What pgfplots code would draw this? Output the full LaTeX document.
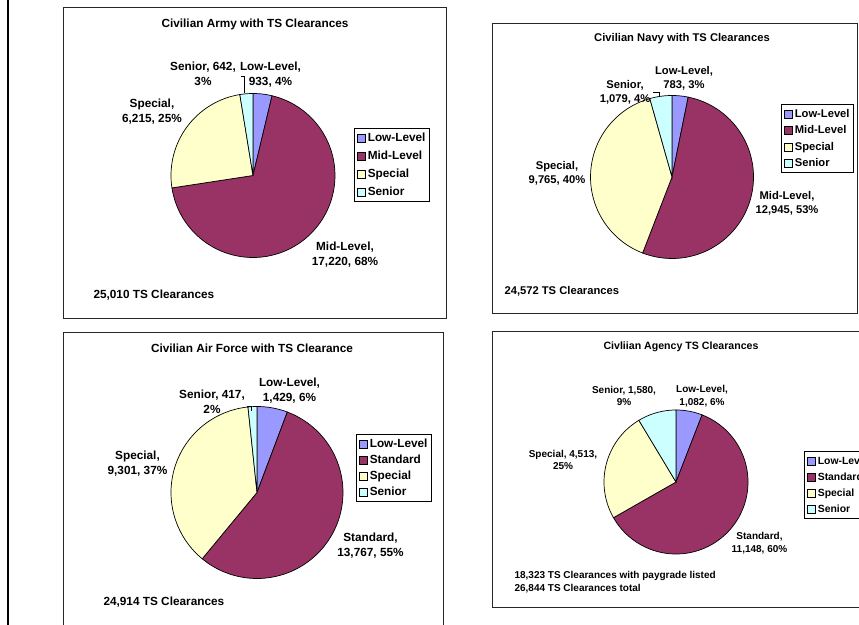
\documentclass[border=0pt]{standalone}
\usepackage{pgfplots}
\pgfplotsset{compat=1.18}
\usepackage{fontspec}
\setmainfont{Liberation Sans}

\definecolor{lowc}{HTML}{9999FF}
\definecolor{midc}{HTML}{993366}
\definecolor{specc}{HTML}{FFFFCC}
\definecolor{senc}{HTML}{CCFFFF}

% One wedge: colour, start angle, end angle, centre x, centre y (radius in \R)
\newcommand\slice[5]{%
  \edef\doslice{\noexpand\addplot[fill=#1, draw=black, line width=0.7pt,
      domain=#3:#2, samples=90]
    ({#4+\R*cos(x)},{#5-\R*sin(x)}) -- (axis cs:#4,#5) -- cycle;}%
  \doslice}

% Pie starting at 12 o'clock, running clockwise:
% centre x, centre y, radius, then the four counts
\newcommand\pie[7]{%
  \edef\R{#3}%
  \edef\tot{\fpeval{#4+#5+#6+#7}}%
  \edef\tA{90}%
  \edef\tB{\fpeval{90-360*#4/\tot}}%
  \edef\tC{\fpeval{\tB-360*#5/\tot}}%
  \edef\tD{\fpeval{\tC-360*#6/\tot}}%
  \slice{lowc}{\tA}{\tB}{#1}{#2}%
  \slice{midc}{\tB}{\tC}{#1}{#2}%
  \slice{specc}{\tC}{\tD}{#1}{#2}%
  \slice{senc}{\tD}{-270}{#1}{#2}%
}

\pgfplotsset{
  panel/.style={
    at={(0,0)}, anchor=south west,
    width=859pt, height=624pt, scale only axis,
    xmin=0, xmax=859, ymin=0, ymax=624, y dir=reverse,
    hide axis, clip=false,
    legend cell align=left,
    legend image code/.code={\draw[##1, line width=0.5pt] (0pt,-4pt) rectangle (8pt,4pt);},
  },
  lg/.style n args={4}{legend style={
      at={(axis cs:#1,#2)}, anchor=north west,
      draw=black, line width=0.6pt, fill=white,
      font=\fontsize{#3}{#3}\selectfont\bfseries,
      inner xsep=2.5pt, inner ysep=4pt, row sep=#4,
      /tikz/every odd column/.append style={column sep=1.5pt},
      nodes={inner xsep=1pt, inner ysep=0pt, text height=9pt, text depth=2pt},
    }},
}

\begin{document}
\begin{tikzpicture}
\useasboundingbox (0,0) rectangle (859pt,624pt);
\clip (0,0) rectangle (859pt,624pt);
\fill[white] (0,0) rectangle (859pt,624pt);

% ---------------- Army ----------------
\begin{axis}[panel, lg={354}{128}{11.8}{7pt}]
  \draw[line width=0.9pt, black!85] (axis cs:63,7) rectangle (axis cs:446,318);
  \draw[black, line width=2pt] (axis cs:7.7,-5) -- (axis cs:7.7,630);
  \pie{253}{175.5}{82}{933}{17220}{6215}{642}
  \legend{Low-Level,Mid-Level,Special,Senior}
  \begin{scope}[every node/.style={font=\fontsize{11.8}{14.8}\selectfont\bfseries, align=center}]
    \node at (axis cs:255,24) {Civilian Army with TS Clearances};
    \node at (axis cs:203,74) {Senior, 642,\\3\%};
    \node at (axis cs:270.5,74.5) {Low-Level,\\933, 4\%};
    \node at (axis cs:152,112) {Special,\\6,215, 25\%};
    \node at (axis cs:345,254.5) {Mid-Level,\\17,220, 68\%};
    \node[anchor=west] at (axis cs:90,295) {25,010 TS Clearances};
  \end{scope}
  \draw[black, line width=0.6pt] (axis cs:241,76) -- (axis cs:244,76) -- (axis cs:244,93);
\end{axis}

% ---------------- Navy ----------------
\begin{axis}[panel, lg={781}{104}{11.2}{5.5pt}]
  \draw[line width=0.9pt, black!85] (axis cs:492,23) rectangle (axis cs:857,313);
  \pie{672}{177}{81.5}{783}{12945}{9765}{1079}
  \legend{Low-Level,Mid-Level,Special,Senior}
  \begin{scope}[every node/.style={font=\fontsize{11.2}{14.2}\selectfont\bfseries, align=center}]
    \node at (axis cs:682,39) {Civilian Navy with TS Clearances};
    \node at (axis cs:684,78) {Low-Level,\\783, 3\%};
    \node at (axis cs:625,92) {Senior,\\1,079, 4\%};
    \node at (axis cs:557,173) {Special,\\9,765, 40\%};
    \node at (axis cs:787,203.5) {Mid-Level,\\12,945, 53\%};
    \node[anchor=west] at (axis cs:501,291) {24,572 TS Clearances};
  \end{scope}
  \draw[black, line width=0.6pt] (axis cs:653,92) -- (axis cs:659,92) -- (axis cs:659,97);
\end{axis}

% ---------------- Air Force ----------------
\begin{axis}[panel, lg={356}{434}{11.8}{5pt}]
  \draw[line width=0.9pt, black!85] (axis cs:63,332) rectangle (axis cs:443,660);
  \pie{257}{492.5}{86}{1429}{13767}{9301}{417}
  \legend{Low-Level,Standard,Special,Senior}
  \begin{scope}[every node/.style={font=\fontsize{11.8}{14.8}\selectfont\bfseries, align=center}]
    \node at (axis cs:252,348) {Civilian Air Force with TS Clearance};
    \node at (axis cs:289.5,391) {Low-Level,\\1,429, 6\%};
    \node at (axis cs:212,402) {Senior, 417,\\2\%};
    \node at (axis cs:137.5,463.5) {Special,\\9,301, 37\%};
    \node at (axis cs:370.5,546) {Standard,\\13,767, 55\%};
    \node[anchor=west] at (axis cs:100,602) {24,914 TS Clearances};
  \end{scope}
  \draw[black, line width=0.6pt] (axis cs:247,406) -- (axis cs:251,406) -- (axis cs:251,411);
\end{axis}

% ---------------- Agency ----------------
\begin{axis}[panel, lg={804}{451}{10.4}{5pt}]
  \draw[line width=0.9pt, black!85] (axis cs:492,331) rectangle (axis cs:920,607);
  \pie{676}{482}{72}{1082}{11148}{4513}{1580}
  \legend{Low-Level,Standard,Special,Senior}
  \begin{scope}[every node/.style={font=\fontsize{10}{12.8}\selectfont\bfseries, align=center}]
    \node[font=\fontsize{10.6}{12.8}\selectfont\bfseries] at (axis cs:681,347) {Civliian Agency TS Clearances};
    \node at (axis cs:624,396) {Senior, 1,580,\\9\%};
    \node at (axis cs:702,396) {Low-Level,\\1,082, 6\%};
    \node at (axis cs:563,460) {Special, 4,513,\\25\%};
    \node at (axis cs:759.5,543.5) {Standard,\\11,148, 60\%};
    \node[anchor=west, align=left] at (axis cs:511,582) {18,323 TS Clearances with paygrade listed\\26,844 TS Clearances total};
  \end{scope}
\end{axis}
\end{tikzpicture}
\end{document}
